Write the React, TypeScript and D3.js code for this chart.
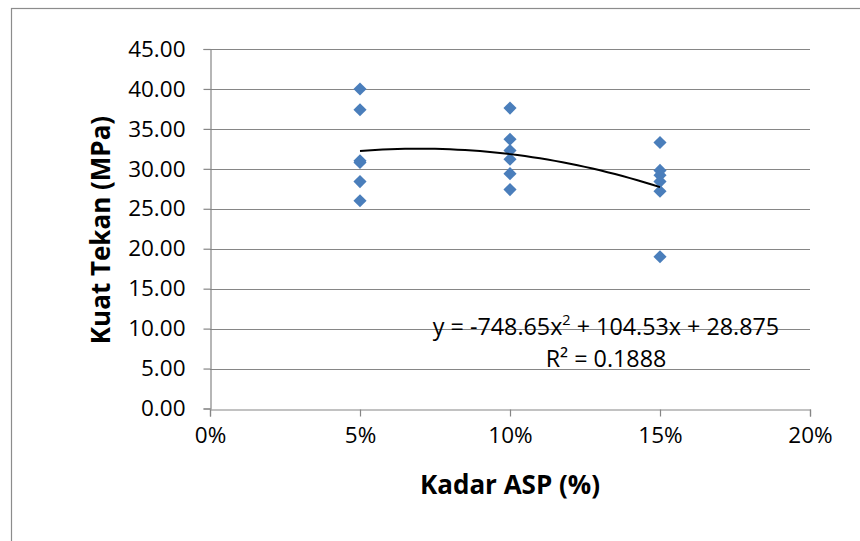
import * as d3 from "d3";
import { useEffect, useRef } from "react";

// Kuat tekan (MPa) at each kadar ASP
const kadarLevels = [0.05, 0.1, 0.15];
const kuat5 = [40.0, 37.4, 31.0, 30.8, 28.4, 26.0];
const kuat10 = [37.6, 33.7, 32.3, 31.2, 29.4, 27.4];
const kuat15 = [33.3, 29.8, 29.2, 28.4, 27.2, 19.0];

const xTicks = [0, 0.05, 0.1, 0.15, 0.2];
const yTicks = [0, 5, 10, 15, 20, 25, 30, 35, 40, 45];

// poly trendline y = a x^2 + b x + c
const trendCoef = [-748.65, 104.53, 28.875];
const rSquared = "0.1888";

const FONT = "'Open Sans', sans-serif";

function App() {
    const ref = useRef<HTMLDivElement>(null);

    useEffect(() => {
        d3.select(ref.current).selectAll("*").remove();

        const width = 860;
        const height = 541;

        const svg = d3.select(ref.current)
            .append("svg")
            .attr("width", width)
            .attr("height", height)
            .style("display", "block");

        svg.append("rect")
            .attr("width", width)
            .attr("height", height)
            .attr("fill", "#fff");

        // outer chart frame (runs off the right and bottom)
        svg.append("rect")
            .attr("x", 11.5)
            .attr("y", 8.5)
            .attr("width", 900)
            .attr("height", 600)
            .attr("fill", "none")
            .attr("stroke", "#8c8c8c")
            .attr("stroke-width", 1.2);

        const x = d3.scaleLinear().domain([0, 0.2]).range([210, 810]);
        const y = d3.scaleLinear().domain([0, 45]).range([408.5, 49]);

        const grid = svg.append("g");
        grid.selectAll("line")
            .data(yTicks.filter(d => d > 0))
            .enter()
            .append("line")
            .attr("x1", x(0))
            .attr("x2", x(0.2))
            .attr("y1", d => Math.round(y(d)) + 0.5)
            .attr("y2", d => Math.round(y(d)) + 0.5)
            .attr("stroke", "#868686")
            .attr("stroke-width", 1.2);

        // y axis
        const yAxis = svg.append("g")
            .attr("transform", `translate(${x(0) + 0.5},0)`)
            .call(d3.axisLeft(y).tickValues(yTicks).tickSize(7).tickPadding(18)
                .tickFormat(d => d3.format(".2f")(d as number)));
        yAxis.select(".domain").attr("stroke", "#868686").attr("stroke-width", 1.2);
        yAxis.selectAll(".tick line").attr("stroke", "#868686").attr("stroke-width", 1.2);
        yAxis.selectAll("text")
            .attr("font-family", FONT)
            .attr("font-size", 22.5)
            .attr("fill", "#000");

        // x axis
        const xAxis = svg.append("g")
            .attr("transform", `translate(0,${Math.round(y(0)) + 0.5})`)
            .call(d3.axisBottom(x).tickValues(xTicks).tickSize(7).tickPadding(11)
                .tickFormat(d3.format(".0%")));
        xAxis.select(".domain").attr("stroke", "#868686").attr("stroke-width", 1.2);
        xAxis.selectAll(".tick line").attr("stroke", "#868686").attr("stroke-width", 1.2);
        xAxis.selectAll("text")
            .attr("font-family", FONT)
            .attr("font-size", 22.5)
            .attr("fill", "#000");

        const points = [kuat5, kuat10, kuat15].flatMap((vals, i) =>
            vals.map(v => ({ kadar: kadarLevels[i], kuat: v })));

        const diamond = d3.symbol().type(d3.symbolDiamond2).size(110);

        svg.append("g")
            .selectAll("path")
            .data(points)
            .enter()
            .append("path")
            .attr("d", diamond)
            .attr("transform", d => `translate(${x(d.kadar)},${y(d.kuat)})`)
            .attr("fill", "#4a7ebb");

        const [a, b, c] = trendCoef;
        const trendX = d3.range(kadarLevels[0], kadarLevels[2] + 0.0001, 0.0025);
        const line = d3.line<number>()
            .x(d => x(d))
            .y(d => y(a * d * d + b * d + c))
            .curve(d3.curveMonotoneX);

        svg.append("path")
            .datum(trendX)
            .attr("d", line)
            .attr("fill", "none")
            .attr("stroke", "#000")
            .attr("stroke-width", 2);

        const eq = svg.append("text")
            .attr("x", 606)
            .attr("y", 335)
            .attr("text-anchor", "middle")
            .attr("font-family", FONT)
            .attr("font-size", 23.3)
            .attr("fill", "#000");
        eq.append("tspan").text(`y = ${a}x`);
        eq.append("tspan").attr("font-size", 14.5).attr("dy", -10).text("2");
        eq.append("tspan").attr("dy", 10).text(` + ${b}x + ${c}`);

        svg.append("text")
            .attr("x", 606)
            .attr("y", 367)
            .attr("text-anchor", "middle")
            .attr("font-family", FONT)
            .attr("font-size", 23.3)
            .attr("fill", "#000")
            .text(`R² = ${rSquared}`);

        svg.append("text")
            .attr("transform", `translate(110,230) rotate(-90)`)
            .attr("text-anchor", "middle")
            .attr("font-family", FONT)
            .attr("font-weight", "bold")
            .attr("font-size", 26)
            .attr("fill", "#000")
            .text("Kuat Tekan (MPa)");

        svg.append("text")
            .attr("x", 510)
            .attr("y", 494)
            .attr("text-anchor", "middle")
            .attr("font-family", FONT)
            .attr("font-weight", "bold")
            .attr("font-size", 26)
            .attr("fill", "#000")
            .text("Kadar ASP (%)");
    }, []);

    return (
        <div ref={ref} style={{ position: "absolute", left: 0, top: 0 }}></div>
    );
}

export default App;
